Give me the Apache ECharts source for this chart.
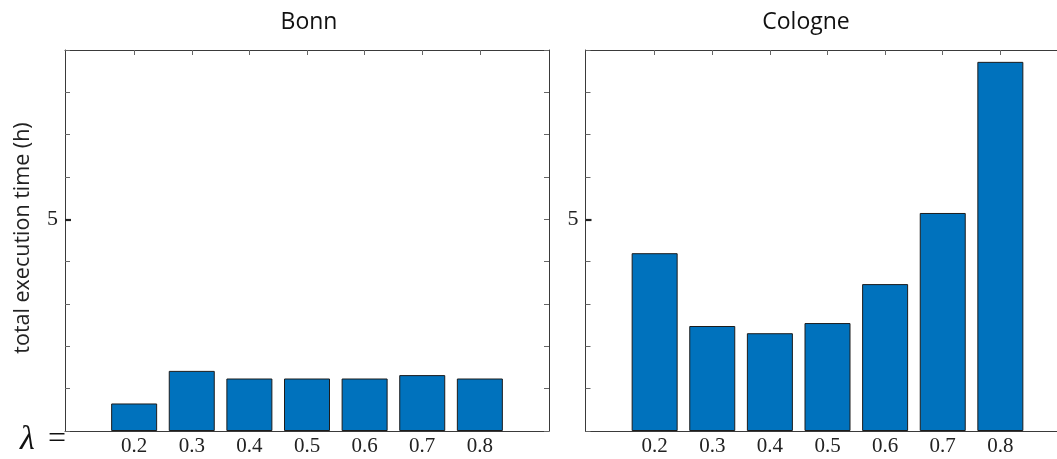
<!DOCTYPE html>
<html>
<head>
<meta charset="utf-8">
<script src="https://cdn.jsdelivr.net/npm/echarts@6/dist/echarts.min.js"></script>
<style>
html,body{margin:0;padding:0;background:#fff;overflow:hidden;width:1057px;height:459px;}
#chart{width:1072px;height:459px;}
</style>
</head>
<body>
<div id="chart"></div>
<script>
// ---- data ----
const lambdas = [0.2, 0.3, 0.4, 0.5, 0.6, 0.7, 0.8];
const bonnTimes = [0.65, 1.42, 1.24, 1.24, 1.24, 1.32, 1.24];
const cologneTimes = [4.20, 2.48, 2.31, 2.55, 3.47, 5.15, 8.72];
const panelTitles = ['Bonn', 'Cologne'];
const yLabelValues = [5];
const yAxisTitle = 'total execution time (h)';

const serif = '"Liberation Serif", "DejaVu Serif", serif';
const sans = '"Open Sans", Lato, sans-serif';
const lineCol = '#3a3a3a';
const tickCol = '#666';

const grids = [
  {left: 65, top: 50, width: 484, height: 381},
  {left: 585.5, top: 50, width: 484, height: 381}
];

const xAxes = [], yAxes = [], series = [];
[bonnTimes, cologneTimes].forEach((vals, g) => {
  xAxes.push({
    type: 'value', gridIndex: g, position: 'bottom', min: 0.08, max: 0.92,
    axisLine: {show: true, onZero: false, lineStyle: {color: lineCol, width: 1}},
    axisTick: {show: true, inside: true, length: 5, customValues: lambdas, lineStyle: {color: tickCol}},
    axisLabel: {show: true, customValues: lambdas, margin: 5, fontFamily: serif, fontSize: 21, color: '#222',
      formatter: v => (+v).toFixed(1)},
    splitLine: {show: false}
  });
  xAxes.push({
    type: 'value', gridIndex: g, position: 'top', min: 0.08, max: 0.92,
    axisLine: {show: true, onZero: false, lineStyle: {color: lineCol, width: 1}},
    axisTick: {show: true, inside: true, length: 5, customValues: lambdas, lineStyle: {color: tickCol}},
    axisLabel: {show: false}, splitLine: {show: false}
  });
  yAxes.push({
    type: 'value', gridIndex: g, position: 'left', min: 0, max: 9, interval: 1,
    axisLine: {show: true, onZero: false, lineStyle: {color: lineCol, width: 1}},
    axisTick: {show: true, inside: true, length: 5, lineStyle: {color: tickCol}},
    axisLabel: {show: true, customValues: yLabelValues, margin: 7, fontFamily: serif, fontSize: 22, color: '#222'},
    splitLine: {show: false}
  });
  yAxes.push({
    type: 'value', gridIndex: g, position: 'right', min: 0, max: 9, interval: 1,
    axisLine: {show: true, onZero: false, lineStyle: {color: lineCol, width: 1}},
    axisTick: {show: true, inside: true, length: 5, lineStyle: {color: tickCol}},
    axisLabel: {show: false}, splitLine: {show: false}
  });
  yAxes.push({
    type: 'value', gridIndex: g, position: 'left', min: 0, max: 9,
    axisLine: {show: false, onZero: false},
    axisTick: {show: true, inside: true, length: 6, customValues: yLabelValues, lineStyle: {color: '#222', width: 2.2}},
    axisLabel: {show: false}, splitLine: {show: false}
  });
  series.push({
    type: 'bar', xAxisIndex: g * 2, yAxisIndex: g * 3,
    data: lambdas.map((l, i) => [l, vals[i]]),
    barWidth: 46,
    itemStyle: {color: '#0072BD', borderColor: '#1c1c1c', borderWidth: 1},
    silent: true, animation: false
  });
});

const chart = echarts.init(document.getElementById('chart'), null, {renderer: 'canvas'});
chart.setOption({
  animation: false,
  backgroundColor: '#fff',
  grid: grids,
  xAxis: xAxes,
  yAxis: yAxes,
  series: series,
  graphic: [
    {type: 'text', x: 309, y: 22, style: {text: panelTitles[0], font: '23px ' + sans, fill: '#111', textAlign: 'center', textVerticalAlign: 'middle'}},
    {type: 'text', x: 806, y: 22, style: {text: panelTitles[1], font: '23px ' + sans, fill: '#111', textAlign: 'center', textVerticalAlign: 'middle'}},
    {type: 'text', x: 23, y: 238, rotation: Math.PI / 2, style: {text: yAxisTitle, font: '21.5px ' + sans, fill: '#222', textAlign: 'center', textVerticalAlign: 'middle'}},
    {type: 'text', x: 20, y: 440, style: {text: 'λ', font: 'italic 34px ' + serif, fill: '#111', textAlign: 'left', textVerticalAlign: 'middle'}},
    {type: 'text', x: 48, y: 440, style: {text: '=', font: '32px ' + serif, fill: '#111', textAlign: 'left', textVerticalAlign: 'middle'}}
  ]
});
</script>
</body>
</html>
